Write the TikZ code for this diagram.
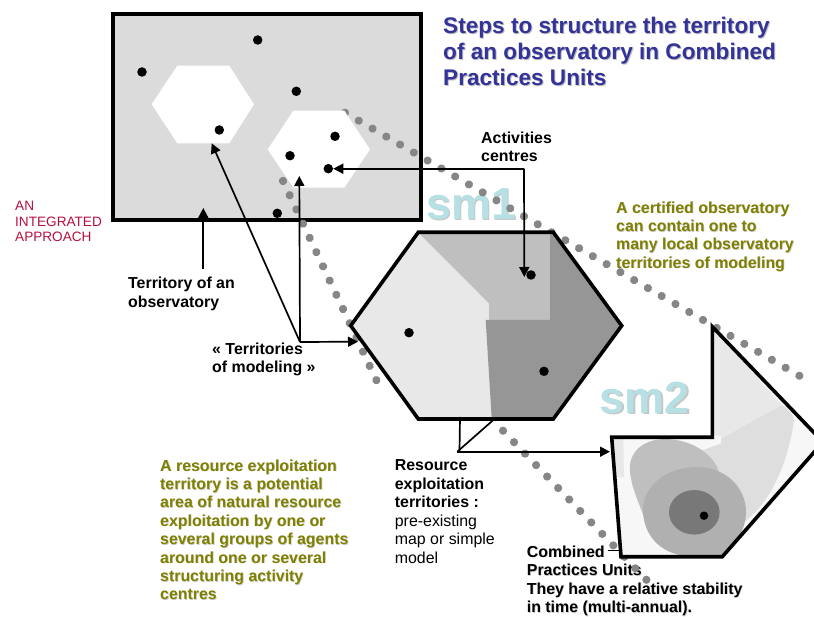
\documentclass[tikz,border=0pt]{standalone}
\usepackage{fontspec}
\setmainfont{Liberation Sans}
\usetikzlibrary{arrows.meta}
\definecolor{titleblue}{HTML}{333399}
\definecolor{olivetxt}{HTML}{7F7F00}
\definecolor{redtxt}{HTML}{B5103C}
\definecolor{smcol}{HTML}{B6E0E4}
\tikzset{
  x=1pt,y=-1pt,
  spot/.style={circle,fill=black,draw=none,inner sep=0pt,minimum size=9.5pt},
  smallspot/.style={circle,fill=black,draw=none,inner sep=0pt,minimum size=8.5pt},
  arrowline/.style={draw=black,line width=1.7pt,-{Triangle[length=10pt,width=10pt]}},
  plainline/.style={draw=black,line width=1.7pt},
  dotline/.style={draw=gray!95,line width=8.2pt,line cap=round,dash pattern=on 0.01pt off 15.9pt},
  outline/.style={draw=black,line width=3.6pt,line join=miter},
  label/.style={anchor=north west,align=left,inner sep=0pt,font=\fontsize{15.9}{18.4}\selectfont\bfseries},
  plainlabel/.style={label,font=\fontsize{15.9}{18.4}\selectfont},
  oliveshadow/.style={label,text=gray!40},
  olivelabel/.style={label,text=olivetxt},
  titlelabel/.style={anchor=north west,align=left,inner sep=0pt,font=\fontsize{22.6}{26}\selectfont\bfseries},
  smlabel/.style={anchor=center,inner sep=0pt,font=\fontsize{45}{45}\selectfont\bfseries},
}
\begin{document}
\begin{tikzpicture}
\useasboundingbox (0,0) rectangle (814,617);
% observatory
\path[fill=black!14,outline] (113,14) rectangle (421,220);
\path[fill=white] (177.3,65.7) -- (229.3,65.7) -- (254,104.3) -- (229.3,143.3) -- (177.3,143.3) -- (151.7,104.3) -- cycle;
% texts under the dotted lines
\node[smlabel,text=gray!45] (smoneS) at (473,205.5) {sm1};
\node[smlabel,text=smcol] (smone) at (471.5,204) {sm1};
\node[label,text=gray!40] (combinedS) at (527.4,546.2) {Combined\\Practices Units\\They have a relative stability\\in time (multi-annual).};
\node[label] (combined) at (526.7,545.5) {Combined\\Practices Units\\They have a relative stability\\in time (multi-annual).};
% dotted perspective lines
\coordinate (ta) at (345,112.7);
\coordinate (tb) at (801,376.7);
\coordinate (la) at (283,181);
\coordinate (lb) at (378.3,384.3);
\coordinate (ma) at (503,430.7);
\coordinate (mb) at (647.3,580.7);
\draw[dotline] (ta) -- (tb);
\draw[dotline,dash pattern=on 0.01pt off 15.7pt] (la) -- (lb);
\draw[dotline] (ma) -- (mb);
\path[fill=white] (293.3,110.7) -- (344.3,110.7) -- (370,149.3) -- (344.3,187.7) -- (293.3,187.7) -- (267.7,149.3) -- cycle;
% spots in the observatory
\node[spot] (d1) at (257.7,40) {};
\node[spot] (d2) at (142,72) {};
\node[spot] (d3) at (296.3,91.3) {};
\node[spot] (d4) at (219.3,130) {};
\node[spot] (d5) at (335,136.3) {};
\node[spot] (d6) at (290,155.7) {};
\node[spot] (d7) at (328.3,168.7) {};
\node[spot] (d8) at (277.3,213.3) {};
% sm1 hexagon
\fill[black!9] (418.3,232.3) -- (553.3,232.3) -- (621.7,325.7) -- (553.3,419) -- (418.3,419) -- (350.7,325.7) -- cycle;
\fill[black!25] (418.3,232.3) -- (550,232.3) -- (550,320) -- (489,320) -- (489,303.3) -- cycle;
\fill[black!41] (550,229) -- (553.3,232.3) -- (621.7,325.7) -- (553.3,419) -- (491.7,419) -- (485.7,320) -- (550,320) -- cycle;
\path[outline] (418.3,232.3) -- (553.3,232.3) -- (621.7,325.7) -- (553.3,419) -- (418.3,419) -- (350.7,325.7) -- cycle;
\node[spot] (h1) at (409,332.7) {};
\node[spot] (h2) at (531,275) {};
\node[spot] (h3) at (544,371.3) {};
% sm2 pentagon
\fill[black!3] (712.3,326.7) -- (823,442) -- (722.3,556.7) -- (621,556.7) -- (611.7,437.3) -- (712.3,437.3) -- cycle;
\fill[black!9] (712.3,326.7) -- (781.7,405) -- (698.3,451.7) -- (713,437) -- cycle;
\fill[black!9] (611.7,437.3) -- (623.3,437.3) -- (624,477) -- (614,477) -- cycle;
\fill[black!13] (698.3,451.7) -- (781.7,405) .. controls (790,410) and (795,415) .. (793.3,425) .. controls (790,445) and (785,462) .. (776.7,480) .. controls (767,500) and (757,512) .. (743.3,523) -- (700,500) -- cycle;
\fill[black!3] (713,436) -- (721,436) -- (721,443.3) -- (698.3,451.7) -- cycle;
\fill[black!25] (666,439) .. controls (695,440) and (714,456) .. (719,472) -- (700,520) -- (645,520) .. controls (640,505) and (632,490) .. (630,472) .. controls (628,455) and (640,439) .. (666,439) -- cycle;
\fill[black!31] (697,467) .. controls (725,467) and (746,487) .. (746,512) .. controls (746,530) and (735,545) .. (722,555) -- (680,555) .. controls (655,550) and (643,530) .. (643,510) .. controls (643,485) and (668,467) .. (697,467) -- cycle;
\fill[black!53] (694.3,512.3) ellipse [x radius=25.3,y radius=22.3];
\path[outline] (712.3,326.7) -- (823,442) -- (722.3,556.7) -- (621,556.7) -- (611.7,437.3) -- (712.3,437.3) -- cycle;
\node[smallspot] (p1) at (704,515.7) {};
\node[smlabel,text=gray!45] (smtwoS) at (646.5,399.5) {sm2};
\node[smlabel,text=smcol] (smtwo) at (645,398) {sm2};
% title
\node[titlelabel,text=gray!50] (titleS) at (444,17.5) {Steps to structure the territory\\of an observatory in Combined\\Practices Units};
\node[titlelabel,text=titleblue] (title) at (443,16.5) {Steps to structure the territory\\of an observatory in Combined\\Practices Units};
% labels
\node[anchor=north west,align=left,inner sep=0pt,text=redtxt,font=\fontsize{13.6}{15.6}\selectfont] (integrated) at (15,201) {AN\\INTEGRATED\\APPROACH};
\node[oliveshadow] (certS) at (616.7,202) {A certified observatory\\can contain one to\\many local observatory\\territories of modeling};
\node[olivelabel] (cert) at (616,201.3) {A certified observatory\\can contain one to\\many local observatory\\territories of modeling};
\node[oliveshadow] (expS) at (160.7,460) {A resource exploitation\\territory is a potential\\area of natural resource\\exploitation by one or\\several groups of agents\\around one or several\\structuring activity\\centres};
\node[olivelabel] (exp) at (160,459.3) {A resource exploitation\\territory is a potential\\area of natural resource\\exploitation by one or\\several groups of agents\\around one or several\\structuring activity\\centres};
\node[label] (terr) at (128,277) {Territory of an\\observatory};
\node[label] (model) at (212,342.7) {« Territories\\of modeling »};
\node[label] (act) at (481,131.5) {Activities\\centres};
\node[label] (res) at (394.7,459.5) {Resource\\exploitation\\territories :};
\node[plainlabel] (resb) at (394.7,514.7) {pre-existing\\map or simple\\model};
% connectors
\coordinate (jm) at (300,342);
\coordinate (ja) at (524,168.7);
\coordinate (jr) at (459.5,451.7);
\coordinate (jt) at (203.3,269);
\draw[arrowline] (jt) -- (203.3,208);
\draw[arrowline] (jm) -- (211.7,143.3);
\draw[arrowline] (jm) -- (299.3,176);
\draw[arrowline] (jm) -- (358,341.7);
\draw[arrowline] (ja) -- (d7);
\draw[arrowline] (ja) -- (524.3,277);
\draw[plainline] (460,417) -- (jr);
\draw[plainline] (457.3,451.7) -- (493.3,420);
\draw[arrowline] (457.3,451.7) -- (610,451.7);
\draw[plainline,line width=1pt] (607.7,550.7) -- (619,550.7);
\end{tikzpicture}
\end{document}
